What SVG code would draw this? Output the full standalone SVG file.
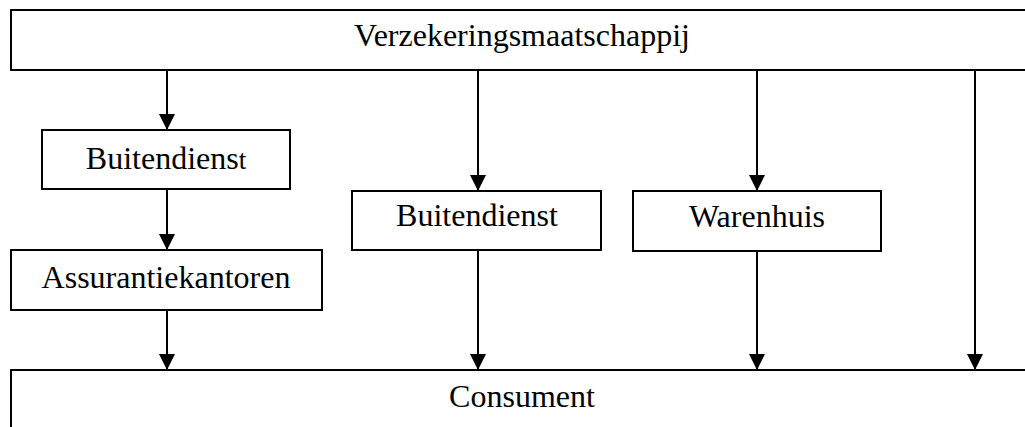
<svg xmlns="http://www.w3.org/2000/svg" width="1025" height="427" viewBox="0 0 1025 427">
  <style>
    .box { fill: #ffffff; stroke: #000000; stroke-width: 2; }
    .lbl { font-family: "Liberation Serif", "Times New Roman", serif; font-size: 32px; fill: #000000; text-anchor: middle; }
    .conn { stroke: #000000; stroke-width: 2; fill: none; }
  </style>
  <defs>
    <marker id="arrow" markerUnits="userSpaceOnUse" markerWidth="16" markerHeight="16" refX="16" refY="8" orient="auto">
      <path d="M0,0 L16,8 L0,16 Z" fill="#000000"/>
    </marker>
  </defs>
  <rect width="1025" height="427" fill="#ffffff"/>

  <g id="verzekeringsmaatschappij">
    <rect class="box" x="11" y="10" width="1030" height="60"/>
    <text class="lbl" x="522" y="46">Verzekeringsmaatschappij</text>
  </g>

  <g id="buitendienst-1">
    <rect class="box" x="42" y="130" width="248" height="59"/>
    <text class="lbl" x="166" y="169">Buitendiens<tspan font-size="27">t</tspan></text>
  </g>

  <g id="assurantiekantoren">
    <rect class="box" x="11" y="250" width="311" height="60"/>
    <text class="lbl" x="166" y="288">Assurantiekantoren</text>
  </g>

  <g id="buitendienst-2">
    <rect class="box" x="352" y="191" width="249" height="59"/>
    <text class="lbl" x="477" y="226">Buitendienst</text>
  </g>

  <g id="warenhuis">
    <rect class="box" x="633" y="191" width="248" height="60"/>
    <text class="lbl" x="757" y="227">Warenhuis</text>
  </g>

  <g id="consument">
    <rect class="box" x="11" y="370" width="1030" height="80"/>
    <text class="lbl" x="522" y="407">Consument</text>
  </g>

  <g id="connectors">
    <line class="conn" x1="167" y1="70" x2="167" y2="130" marker-end="url(#arrow)"/>
    <line class="conn" x1="167" y1="189" x2="167" y2="250" marker-end="url(#arrow)"/>
    <line class="conn" x1="167" y1="310" x2="167" y2="370" marker-end="url(#arrow)"/>
    <line class="conn" x1="478" y1="70" x2="478" y2="191" marker-end="url(#arrow)"/>
    <line class="conn" x1="478" y1="250" x2="478" y2="370" marker-end="url(#arrow)"/>
    <line class="conn" x1="757" y1="70" x2="757" y2="191" marker-end="url(#arrow)"/>
    <line class="conn" x1="757" y1="251" x2="757" y2="370" marker-end="url(#arrow)"/>
    <line class="conn" x1="975" y1="70" x2="975" y2="370" marker-end="url(#arrow)"/>
  </g>
</svg>
